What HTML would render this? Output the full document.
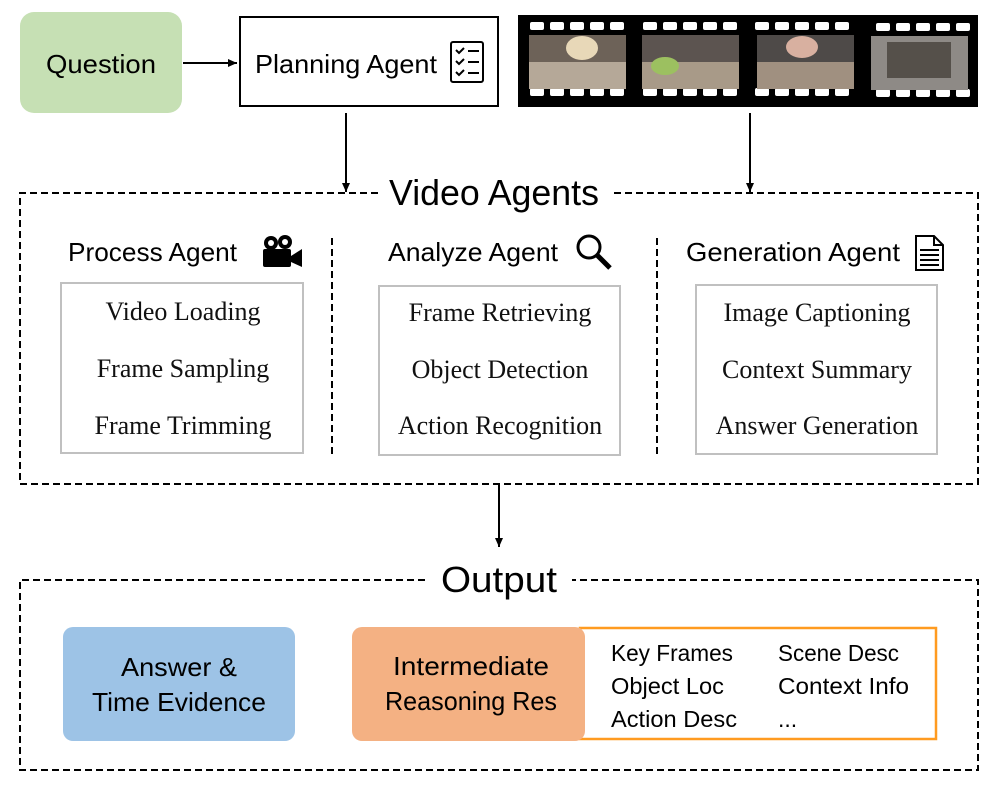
<!DOCTYPE html>
<html><head><meta charset="utf-8"><style>
html,body{margin:0;padding:0;background:#fff;}
svg{display:block;}
.s{font-family:"Liberation Sans",sans-serif;fill:#000;}
.r{font-family:"Liberation Serif",serif;fill:#111;font-size:26px;text-anchor:middle;}
</style></head><body>
<svg width="997" height="785" viewBox="0 0 997 785" xmlns="http://www.w3.org/2000/svg">
<defs>
<marker id="ah" markerWidth="10" markerHeight="10" refX="9" refY="5" orient="auto" markerUnits="userSpaceOnUse">
<path d="M0,1 L9,5 L0,9 Z" fill="#000"/></marker>
</defs>
<rect x="20" y="12" width="162" height="101" rx="14" fill="#c6e0b4"/>
<text class="s" x="101" y="73" font-size="26" text-anchor="middle" textLength="110" lengthAdjust="spacingAndGlyphs">Question</text>
<line x1="183" y1="63" x2="237" y2="63" stroke="#000" stroke-width="2" marker-end="url(#ah)"/>
<rect x="240" y="17" width="258" height="89" fill="#fff" stroke="#000" stroke-width="2"/>
<text class="s" x="255" y="73" font-size="26" textLength="182" lengthAdjust="spacingAndGlyphs">Planning Agent</text>
<g stroke="#000" stroke-width="2" fill="none">
<rect x="451" y="42" width="32" height="40" rx="2"/>
<path d="M456 50 l3 3 l5 -5 M456 61 l3 3 l5 -5 M456 72 l3 3 l5 -5"/>
<path d="M468 51 h11 M468 62 h11 M468 73 h11"/>
</g>
<rect x="518" y="15" width="460" height="92" fill="#000"/>
<g fill="#fff">
<g id="holes">
<rect x="530" y="22" width="14" height="8" rx="2"/><rect x="550" y="22" width="14" height="8" rx="2"/><rect x="570" y="22" width="14" height="8" rx="2"/><rect x="590" y="22" width="14" height="8" rx="2"/><rect x="610" y="22" width="14" height="8" rx="2"/>
<rect x="643" y="22" width="14" height="8" rx="2"/><rect x="663" y="22" width="14" height="8" rx="2"/><rect x="683" y="22" width="14" height="8" rx="2"/><rect x="703" y="22" width="14" height="8" rx="2"/><rect x="723" y="22" width="14" height="8" rx="2"/>
<rect x="755" y="22" width="14" height="8" rx="2"/><rect x="775" y="22" width="14" height="8" rx="2"/><rect x="795" y="22" width="14" height="8" rx="2"/><rect x="815" y="22" width="14" height="8" rx="2"/><rect x="835" y="22" width="14" height="8" rx="2"/>
<rect x="876" y="23" width="14" height="8" rx="2"/><rect x="896" y="23" width="14" height="8" rx="2"/><rect x="916" y="23" width="14" height="8" rx="2"/><rect x="936" y="23" width="14" height="8" rx="2"/><rect x="956" y="23" width="14" height="8" rx="2"/>
</g>
<use href="#holes" y="66"/>
</g>
<g>
<rect x="529" y="35" width="97" height="54" fill="#6d6258"/>
<rect x="529" y="62" width="97" height="27" fill="#b5a898"/>
<ellipse cx="582" cy="48" rx="16" ry="12" fill="#e8d8b8"/>
<rect x="642" y="35" width="97" height="54" fill="#5c5450"/>
<rect x="642" y="62" width="97" height="27" fill="#a89a88"/>
<ellipse cx="665" cy="66" rx="14" ry="9" fill="#9cc060"/>
<rect x="757" y="35" width="97" height="54" fill="#4e4a48"/>
<rect x="757" y="62" width="97" height="27" fill="#a09080"/>
<ellipse cx="802" cy="47" rx="16" ry="11" fill="#d8b0a0"/>
<rect x="871" y="36" width="97" height="54" fill="#8e8a86"/>
<rect x="887" y="42" width="64" height="36" fill="#55504a"/>
</g>
<line x1="346" y1="113" x2="346" y2="192" stroke="#000" stroke-width="2" marker-end="url(#ah)"/>
<line x1="750" y1="113" x2="750" y2="192" stroke="#000" stroke-width="2" marker-end="url(#ah)"/>
<g stroke="#000" stroke-width="2" stroke-dasharray="7,4" fill="none">
<path d="M378 193 H20 V484 H978 V193 H612"/>
<line x1="332" y1="238" x2="332" y2="456"/>
<line x1="657" y1="238" x2="657" y2="456"/>
</g>
<text class="s" x="494" y="205" font-size="36" text-anchor="middle" textLength="210" lengthAdjust="spacingAndGlyphs">Video Agents</text>
<text class="s" x="68" y="261" font-size="26" textLength="169" lengthAdjust="spacingAndGlyphs">Process Agent</text>
<text class="s" x="388" y="261" font-size="26" textLength="170" lengthAdjust="spacingAndGlyphs">Analyze Agent</text>
<text class="s" x="686" y="261" font-size="26" textLength="214" lengthAdjust="spacingAndGlyphs">Generation Agent</text>
<g fill="#000">
<circle cx="271" cy="243" r="7"/><circle cx="285" cy="242" r="7"/>
<rect x="263" y="249" width="28" height="18" rx="2"/>
<path d="M291 256 L302 249 V267 L291 262 Z"/>
</g>
<circle cx="271" cy="243" r="3" fill="#fff"/><circle cx="285" cy="242" r="3" fill="#fff"/>
<g stroke="#000" fill="none"><circle cx="589" cy="247" r="11" stroke-width="3"/><line x1="597" y1="255" x2="610" y2="268" stroke-width="5"/></g>
<g stroke="#000" stroke-width="2" fill="none"><path d="M916 236 H934 L943 245 V270 H916 Z"/><path d="M934 236 V245 H943"/>
<path d="M920 250 h19 M920 255 h19 M920 260 h19 M920 265 h19"/></g>
<g fill="#fff" stroke="#c0c0c0" stroke-width="2">
<rect x="61" y="283" width="242" height="170"/>
<rect x="379" y="286" width="241" height="169"/>
<rect x="696" y="285" width="241" height="169"/>
</g>
<text class="r" x="183" y="320">Video Loading</text>
<text class="r" x="183" y="377">Frame Sampling</text>
<text class="r" x="183" y="434">Frame Trimming</text>
<text class="r" x="500" y="321">Frame Retrieving</text>
<text class="r" x="500" y="378">Object Detection</text>
<text class="r" x="500" y="434">Action Recognition</text>
<text class="r" x="817" y="321">Image Captioning</text>
<text class="r" x="817" y="378">Context Summary</text>
<text class="r" x="817" y="434">Answer Generation</text>
<line x1="499" y1="485" x2="499" y2="547" stroke="#000" stroke-width="2" marker-end="url(#ah)"/>
<path d="M425 580 H20 V770 H978 V580 H572" stroke="#000" stroke-width="2" stroke-dasharray="7,4" fill="none"/>
<text class="s" x="499" y="592" font-size="36" text-anchor="middle" textLength="116" lengthAdjust="spacingAndGlyphs">Output</text>
<rect x="63" y="627" width="232" height="114" rx="10" fill="#9dc3e6"/>
<text class="s" x="179" y="676" font-size="26" text-anchor="middle" textLength="116" lengthAdjust="spacingAndGlyphs">Answer &amp;</text>
<text class="s" x="179" y="711" font-size="26" text-anchor="middle" textLength="174" lengthAdjust="spacingAndGlyphs">Time Evidence</text>
<rect x="580" y="628" width="356" height="111" fill="#fff" stroke="#ff9b20" stroke-width="2.5"/>
<rect x="352" y="627" width="233" height="114" rx="10" fill="#f4b183"/>
<text class="s" x="471" y="675" font-size="26" text-anchor="middle" textLength="156" lengthAdjust="spacingAndGlyphs">Intermediate</text>
<text class="s" x="471" y="710" font-size="26" text-anchor="middle" textLength="172" lengthAdjust="spacingAndGlyphs">Reasoning Res</text>
<g class="s" font-size="23">
<text x="611" y="661" textLength="122" lengthAdjust="spacingAndGlyphs">Key Frames</text>
<text x="611" y="694" textLength="113" lengthAdjust="spacingAndGlyphs">Object Loc</text>
<text x="611" y="727" textLength="126" lengthAdjust="spacingAndGlyphs">Action Desc</text>
<text x="778" y="661" textLength="121" lengthAdjust="spacingAndGlyphs">Scene Desc</text>
<text x="778" y="694" textLength="131" lengthAdjust="spacingAndGlyphs">Context Info</text>
<text x="778" y="727">...</text>
</g>
</svg>
</body></html>
